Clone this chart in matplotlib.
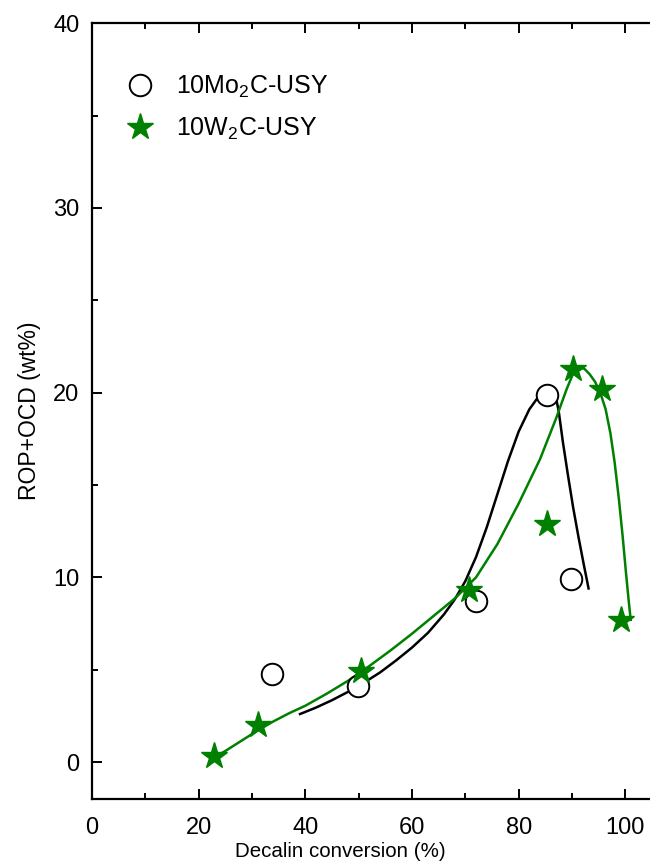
import numpy as np
import matplotlib
matplotlib.use("Agg")
import matplotlib.pyplot as plt

plt.rcParams['font.family'] = ['Liberation Sans', 'DejaVu Sans']
plt.rcParams['mathtext.fontset'] = 'custom'
plt.rcParams['mathtext.rm'] = 'Liberation Sans'

# measured points
mo_x = [33.8, 49.9, 72.0, 85.3, 89.8]
mo_y = [4.75, 4.1, 8.7, 19.9, 9.9]
w_x = [22.9, 31.1, 50.4, 70.7, 85.3, 90.1, 95.7, 99.2]
w_y = [0.35, 2.0, 4.95, 9.3, 12.9, 21.3, 20.2, 7.7]

# fitted curves
mo_fit_x = [39, 42, 45, 48, 51, 54, 57, 60, 63, 66, 68, 70, 72, 74, 76, 78, 80,
            82, 83.5, 85, 86, 86.8, 87.5, 88.3, 89.2, 90.2, 91.2, 92.2, 93.1]
mo_fit_y = [2.6, 2.95, 3.35, 3.8, 4.3, 4.85, 5.5, 6.2, 7.0, 8.0, 8.8, 9.8, 11.1, 12.7,
            14.5, 16.3, 17.9, 19.1, 19.7, 20.1, 20.2, 20.0, 19.0, 17.3, 15.6, 13.8, 12.2, 10.7, 9.4]
w_fit_x = [23.5, 25, 28, 31, 34, 37, 40, 44, 48, 52, 56, 60, 64, 68, 72, 76, 80, 84,
           87, 89, 90.3, 91.3, 92.3, 93.3, 94.3, 95.3, 96.3, 97.2, 98, 98.8, 99.5,
           100.1, 100.6, 101]
w_fit_y = [0.35, 0.6, 1.15, 1.7, 2.2, 2.65, 3.05, 3.7, 4.4, 5.2, 6.05, 6.95, 7.9, 8.85,
           10.0, 11.8, 14.0, 16.4, 18.6, 20.2, 21.1, 21.35, 21.3, 21.0, 20.6, 20.0,
           19.1, 17.8, 16.2, 14.2, 12.2, 10.3, 8.8, 7.7]

fig = plt.figure(figsize=(6.5, 8.63), dpi=100)
ax = fig.add_axes([92 / 650, 64 / 863, 586.7 / 650, 775.7 / 863])

ax.plot(mo_fit_x, mo_fit_y, color='black', lw=1.8, zorder=2)
ax.plot(w_fit_x, w_fit_y, color='green', lw=1.8, zorder=2)
ax.plot(mo_x, mo_y, 'o', mfc='white', mec='black', mew=1.4, ms=15.5, ls='none',
        label='10Mo$_2$C-USY', zorder=3)
ax.plot(w_x, w_y, '*', color='green', ms=20, ls='none',
        label='10W$_2$C-USY', zorder=4)

ax.set_xlim(0, 110)
ax.set_ylim(-2, 40)
ax.set_xticks([0, 20, 40, 60, 80, 100])
ax.set_xticks([10, 30, 50, 70, 90, 110], minor=True)
ax.set_yticks([0, 10, 20, 30, 40])
ax.set_yticks([5, 15, 25, 35], minor=True)
ax.tick_params(which='both', direction='in', top=True, right=True, labelsize=17, width=1.4)
ax.tick_params(which='major', length=7)
ax.tick_params(which='minor', length=4)
ax.tick_params(axis='x', pad=13)
ax.tick_params(axis='y', pad=9)
for s in ax.spines.values():
    s.set_linewidth(1.6)

ax.set_xlabel('Decalin conversion (%)', fontsize=14.8)
ax.xaxis.set_label_coords((340 - 92) / 586.7, -0.055)
ax.set_ylabel('ROP+OCD (wt%)', fontsize=16.5, labelpad=9)

ax.legend(loc='upper left', bbox_to_anchor=(0.0, 0.964), frameon=False, fontsize=18,
          handletextpad=0.45, labelspacing=0.62, numpoints=1)

fig.savefig('out.png', dpi=100)
